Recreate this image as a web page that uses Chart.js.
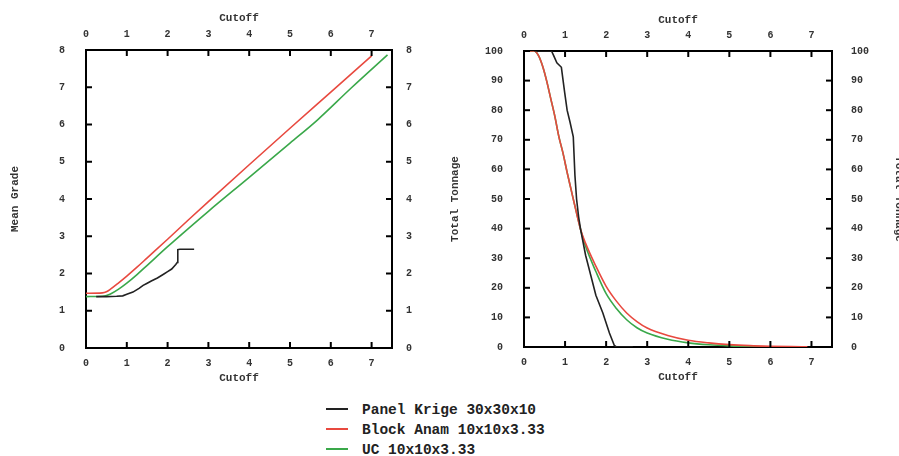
<!DOCTYPE html>
<html>
<head>
<meta charset="utf-8">
<script src="https://cdn.jsdelivr.net/npm/chart.js@4"></script>
<style>
  html, body { margin: 0; padding: 0; width: 899px; height: 456px; overflow: hidden; background: #fff; }
  #c1 { position: absolute; left: 0; top: 0; }
  #c2 { position: absolute; left: 430px; top: 0; }
  #legend { position: absolute; left: 326px; top: 400px; font-family: "Liberation Mono", monospace; font-weight: bold; font-size: 14.5px; color: #222; }
  .row { height: 20px; line-height: 20px; white-space: nowrap; }
  .sw { display: inline-block; width: 22px; height: 2px; vertical-align: middle; margin-right: 14px; position: relative; top: -1px; }
</style>
</head>
<body>
<canvas id="c1" width="430" height="390" style="width:430px;height:390px"></canvas>
<canvas id="c2" width="478" height="390" style="width:478px;height:390px"></canvas>
<div id="legend"></div>
<script>
// ---------- data ----------
const seriesNames = ["Panel Krige 30x30x10", "Block Anam 10x10x3.33", "UC 10x10x3.33"];
const seriesColors = ["#222222", "#e8493f", "#3aa84a"];

const xTickValues = [0, 1, 2, 3, 4, 5, 6, 7];
const gradeTickValues = [0, 1, 2, 3, 4, 5, 6, 7, 8];
const tonnageTickValues = [0, 10, 20, 30, 40, 50, 60, 70, 80, 90, 100];

// Mean Grade vs Cutoff
const gradeKrigeX = [0.25, 0.5, 0.75, 0.9, 1.0, 1.15, 1.3, 1.4, 1.5, 1.6, 1.75, 1.9, 2.0, 2.1, 2.2, 2.24, 2.25, 2.3, 2.65];
const gradeKrigeY = [1.38, 1.38, 1.39, 1.40, 1.44, 1.50, 1.60, 1.68, 1.74, 1.80, 1.88, 1.98, 2.05, 2.12, 2.24, 2.30, 2.64, 2.65, 2.65];
const gradeAnamX = [0, 0.4, 0.5, 0.6, 0.8, 1.0, 1.25, 1.5, 2.0, 2.5, 3.0, 4.0, 5.0, 6.0, 7.0];
const gradeAnamY = [1.47, 1.48, 1.51, 1.58, 1.75, 1.93, 2.17, 2.42, 2.92, 3.43, 3.93, 4.92, 5.90, 6.87, 7.84];
const gradeUcX = [0, 0.4, 0.5, 0.6, 0.8, 1.0, 1.25, 1.5, 2.0, 2.5, 3.0, 4.0, 5.0, 5.67, 6.5, 7.39];
const gradeUcY = [1.38, 1.39, 1.41, 1.45, 1.58, 1.74, 1.97, 2.22, 2.72, 3.20, 3.67, 4.58, 5.50, 6.12, 6.98, 7.87];

// Total Tonnage vs Cutoff
const tonKrigeX = [0.25, 0.67, 0.72, 0.8, 0.91, 0.99, 1.05, 1.12, 1.2, 1.24, 1.28, 1.33, 1.38, 1.5, 1.63, 1.75, 1.92, 2.08, 2.2, 2.25, 2.65];
const tonKrigeY = [100, 100, 98.5, 96, 94.5, 86, 80, 76, 71, 58, 50, 44, 39.6, 31, 24, 17.5, 11.5, 4.7, 0.5, 0, 0];
const tonAnamX = [0, 0.25, 0.35, 0.45, 0.55, 0.65, 0.75, 0.85, 0.95, 1.05, 1.15, 1.25, 1.38, 1.5, 1.75, 2.0, 2.25, 2.5, 2.75, 3.0, 3.5, 4.0, 4.5, 5.0, 5.5, 6.0, 6.5, 6.9];
const tonAnamY = [100, 100, 98.5, 95, 90, 84, 78, 71, 65.5, 59, 53, 47, 39.6, 35, 27.3, 20.5, 15.5, 11.5, 8.6, 6.4, 3.9, 2.3, 1.4, 0.8, 0.45, 0.25, 0.12, 0.05];
const tonUcX = [0, 0.25, 0.35, 0.45, 0.55, 0.65, 0.75, 0.85, 0.95, 1.05, 1.15, 1.25, 1.38, 1.5, 1.75, 2.0, 2.25, 2.5, 2.75, 3.0, 3.5, 4.0, 4.5, 5.0, 5.5, 5.77];
const tonUcY = [100, 100, 98.5, 95, 90, 84, 78, 71, 65.5, 59, 53, 47, 39.6, 34, 25.5, 18, 13, 9.2, 6.5, 4.7, 2.6, 1.4, 0.75, 0.38, 0.18, 0.1];

// ---------- helpers ----------
const pts = (xs, ys) => xs.map((x, i) => ({ x: x, y: ys[i] }));
const FONT = "'Liberation Mono', monospace";
const tickFont = { family: FONT, size: 10, weight: 'bold' };
const titleFont = { family: FONT, size: 11, weight: 'bold' };

function ds(i, data) {
  const d = { label: seriesNames[i], data: data, borderColor: seriesColors[i], backgroundColor: seriesColors[i],
           borderWidth: 1.6, pointRadius: 0, fill: false };
  if (i === 0) { d.tension = 0; } else { d.cubicInterpolationMode = 'monotone'; }
  return d;
}

const inwardTicks = {
  id: 'inwardTicks',
  afterDatasetsDraw(chart) {
    const ctx = chart.ctx, a = chart.chartArea, L = 6;
    ctx.save();
    ctx.strokeStyle = '#000';
    ctx.lineWidth = 2;
    Object.values(chart.scales).forEach(s => {
      s.ticks.forEach(t => {
        const p = s.getPixelForValue(t.value);
        ctx.beginPath();
        if (s.position === 'bottom') { ctx.moveTo(p, a.bottom); ctx.lineTo(p, a.bottom - L); }
        else if (s.position === 'top') { ctx.moveTo(p, a.top); ctx.lineTo(p, a.top + L); }
        else if (s.position === 'left') { ctx.moveTo(a.left, p); ctx.lineTo(a.left + L, p); }
        else { ctx.moveTo(a.right, p); ctx.lineTo(a.right - L, p); }
        ctx.stroke();
      });
    });
    ctx.restore();
  }
};

function xScale(pos, height, titlePad, labelPad) {
  return {
    type: 'linear', position: pos, min: 0, max: 7.5,
    grid: { display: false },
    border: { display: true, color: '#000', width: 2 },
    ticks: { font: tickFont, color: '#333', padding: labelPad, maxRotation: 0 },
    afterBuildTicks: s => { s.ticks = xTickValues.map(v => ({ value: v })); },
    title: { display: true, text: 'Cutoff', font: titleFont, color: '#333', padding: titlePad },
    afterFit: s => { s.height = height; }
  };
}
function yScale(pos, width, max, tickVals, labelPad, title, titlePad) {
  return {
    type: 'linear', position: pos, min: 0, max: max,
    grid: { display: false },
    border: { display: true, color: '#000', width: 2 },
    ticks: { font: tickFont, color: '#333', padding: labelPad },
    afterBuildTicks: s => { s.ticks = tickVals.map(v => ({ value: v })); },
    title: { display: !!title, text: title || '', font: titleFont, color: '#333', padding: titlePad },
    afterFit: s => { s.width = width; }
  };
}

const common = {
  responsive: false, animation: false, devicePixelRatio: 1,
  layout: { padding: 0 },
  plugins: { legend: { display: false }, tooltip: { enabled: false } }
};

new Chart(document.getElementById('c1'), {
  type: 'line',
  data: { datasets: [ds(0, pts(gradeKrigeX, gradeKrigeY)), ds(1, pts(gradeAnamX, gradeAnamY)), ds(2, pts(gradeUcX, gradeUcY))] },
  options: Object.assign({}, common, {
    scales: {
      x: xScale('bottom', 42, { top: 0, bottom: 5.4 }, 1),
      xTop: xScale('top', 50, { top: 11.4, bottom: 0 }, 2),
      y: yScale('left', 86, 8, gradeTickValues, 13, 'Mean Grade', { top: 8.4, bottom: 0 }),
      y2: yScale('right', 38, 8, gradeTickValues, 6, '', 0)
    }
  }),
  plugins: [inwardTicks]
});

new Chart(document.getElementById('c2'), {
  type: 'line',
  data: { datasets: [ds(0, pts(tonKrigeX, tonKrigeY)), ds(1, pts(tonAnamX, tonAnamY)), ds(2, pts(tonUcX, tonUcY))] },
  options: Object.assign({}, common, {
    scales: {
      x: xScale('bottom', 43, { top: 0, bottom: 6 }, 1),
      xTop: xScale('top', 51, { top: 13.4, bottom: 0 }, 2),
      y: yScale('left', 94, 100, tonnageTickValues, 13, 'Total Tonnage', { top: 18.4, bottom: 0 }),
      y2: yScale('right', 76, 100, tonnageTickValues, 11, 'Total Tonnage', { top: 2.4, bottom: 0 })
    }
  }),
  plugins: [inwardTicks]
});

// legend
const lg = document.getElementById('legend');
seriesNames.forEach((n, i) => {
  const r = document.createElement('div');
  r.className = 'row';
  const sw = document.createElement('span');
  sw.className = 'sw';
  sw.style.background = seriesColors[i];
  r.appendChild(sw);
  r.appendChild(document.createTextNode(n));
  lg.appendChild(r);
});
</script>
</body>
</html>
